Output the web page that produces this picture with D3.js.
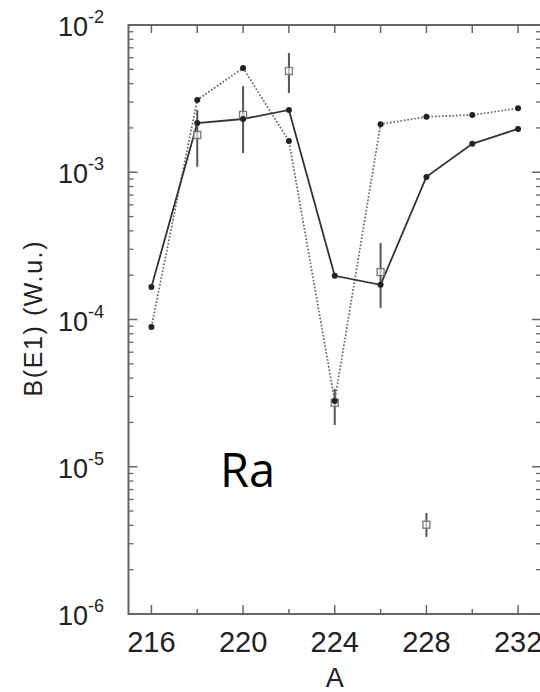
<!DOCTYPE html>
<html>
<head>
<meta charset="utf-8">
<script src="https://cdn.jsdelivr.net/npm/d3@7"></script>
<style>
  body { margin: 0; background: #fff; }
  text { font-family: "Liberation Sans", Arial, sans-serif; fill: #222; }
</style>
</head>
<body>
<script>
// mass numbers
var massA = [216, 218, 220, 222, 224, 226, 228, 230, 232];
// theory, solid line
var theorySolid = [1.66e-4, 2.16e-3, 2.30e-3, 2.65e-3, 1.98e-4, 1.72e-4, 9.3e-4, 1.56e-3, 1.97e-3];
// theory, dotted line
var theoryDotted = [8.9e-5, 3.1e-3, 5.1e-3, 1.63e-3, 2.8e-5, 2.12e-3, 2.38e-3, 2.45e-3, 2.72e-3];
// experiment (open squares with error bars)
var expA = [218, 220, 222, 224, 226, 228];
var expVal = [1.79e-3, 2.45e-3, 4.87e-3, 2.72e-5, 2.1e-4, 4.04e-6];
var expHi = [2.65e-3, 3.85e-3, 6.45e-3, 3.38e-5, 3.31e-4, 4.86e-6];
var expLo = [1.09e-3, 1.35e-3, 3.45e-3, 1.92e-5, 1.2e-4, 3.34e-6];
var xTicks = [216, 218, 220, 222, 224, 226, 228, 230, 232];
var xLabels = [216, 220, 224, 228, 232];
var yExps = [-2, -3, -4, -5, -6];

var width = 540, height = 692;
var plotLeft = 128.5, plotRight = 541, plotTop = 25, plotBottom = 614;

var svg = d3.select("body").append("svg")
    .attr("width", width)
    .attr("height", height);

var x = d3.scaleLinear().domain([215, 233]).range([plotLeft, plotRight]);
var y = d3.scaleLog().domain([1e-6, 1e-2]).range([plotBottom, plotTop]);

var axisColor = "#666";

// frame
svg.append("rect")
    .attr("x", plotLeft).attr("y", plotTop)
    .attr("width", plotRight - plotLeft).attr("height", plotBottom - plotTop)
    .attr("fill", "none")
    .attr("stroke", axisColor)
    .attr("stroke-width", 2);

// x ticks bottom + top
xTicks.forEach(function(t) {
  var major = xLabels.indexOf(t) >= 0;
  svg.append("line")
      .attr("x1", x(t)).attr("x2", x(t))
      .attr("y1", plotBottom).attr("y2", plotBottom - (major ? 9 : 5))
      .attr("stroke", axisColor).attr("stroke-width", 1.5);
  svg.append("line")
      .attr("x1", x(t)).attr("x2", x(t))
      .attr("y1", plotTop).attr("y2", plotTop + 8)
      .attr("stroke", axisColor).attr("stroke-width", 1.5);
});

svg.selectAll("text.xlab")
  .data(xLabels)
  .enter().append("text")
    .attr("class", "xlab")
    .attr("x", function(d) { return x(d); })
    .attr("y", plotBottom + 38)
    .attr("text-anchor", "middle")
    .style("font-size", "29px")
    .text(function(d) { return d; });

// y ticks (major + minor) on left and right
var yMinor = [];
for (var e = -6; e < -2; e++) {
  for (var m = 2; m <= 9; m++) yMinor.push(m * Math.pow(10, e));
}
yExps.forEach(function(e) {
  var v = Math.pow(10, e);
  svg.append("line")
      .attr("x1", plotLeft).attr("x2", plotLeft + 9)
      .attr("y1", y(v)).attr("y2", y(v))
      .attr("stroke", axisColor).attr("stroke-width", 1.5);
  svg.append("line")
      .attr("x1", plotRight).attr("x2", plotRight - 9)
      .attr("y1", y(v)).attr("y2", y(v))
      .attr("stroke", axisColor).attr("stroke-width", 1.5);
});
yMinor.forEach(function(v) {
  svg.append("line")
      .attr("x1", plotLeft).attr("x2", plotLeft + 5)
      .attr("y1", y(v)).attr("y2", y(v))
      .attr("stroke", axisColor).attr("stroke-width", 1.3);
  svg.append("line")
      .attr("x1", plotRight).attr("x2", plotRight - 5)
      .attr("y1", y(v)).attr("y2", y(v))
      .attr("stroke", axisColor).attr("stroke-width", 1.3);
});

var ylab = svg.selectAll("text.ylab")
  .data(yExps)
  .enter().append("text")
    .attr("class", "ylab")
    .attr("x", 58)
    .attr("y", function(d) { return y(Math.pow(10, d)) + 11; })
    .style("font-size", "27px");
ylab.append("tspan").text("10");
ylab.append("tspan")
    .attr("dy", -13)
    .style("font-size", "18px")
    .text(function(d) { return "-" + Math.abs(d); });

// axis titles
svg.append("text")
    .attr("transform", "translate(42," + 319 + ") rotate(-90)")
    .attr("text-anchor", "middle")
    .attr("textLength", 155)
    .attr("lengthAdjust", "spacing")
    .style("font-size", "25px")
    .text("B(E1) (W.u.)");

svg.append("text")
    .attr("x", x(224))
    .attr("y", 687)
    .attr("text-anchor", "middle")
    .style("font-size", "27px")
    .text("A");

svg.append("text")
    .attr("x", 220)
    .attr("y", 487)
    .style("font-family", "'Open Sans', sans-serif")
    .style("font-size", "47px")
    .style("fill", "#000")
    .text("Ra");

// lines
var line = d3.line()
    .x(function(d) { return x(d[0]); })
    .y(function(d) { return y(d[1]); });

var dottedData = d3.zip(massA, theoryDotted);
var solidData = d3.zip(massA, theorySolid);

svg.append("path")
    .attr("d", line(dottedData))
    .attr("fill", "none")
    .attr("stroke", "#666")
    .attr("stroke-width", 1.7)
    .attr("stroke-dasharray", "1.7,1.8");

svg.append("path")
    .attr("d", line(solidData))
    .attr("fill", "none")
    .attr("stroke", "#333")
    .attr("stroke-width", 1.8);

// experiment
var expData = expA.map(function(a, i) { return {a: a, v: expVal[i], hi: expHi[i], lo: expLo[i]}; });

svg.selectAll("line.err")
  .data(expData)
  .enter().append("line")
    .attr("class", "err")
    .attr("x1", function(d) { return x(d.a); })
    .attr("x2", function(d) { return x(d.a); })
    .attr("y1", function(d) { return y(d.hi); })
    .attr("y2", function(d) { return y(d.lo); })
    .attr("stroke", "#555")
    .attr("stroke-width", 2);

svg.selectAll("rect.exp")
  .data(expData)
  .enter().append("rect")
    .attr("class", "exp")
    .attr("x", function(d) { return x(d.a) - 3.5; })
    .attr("y", function(d) { return y(d.v) - 3.5; })
    .attr("width", 7).attr("height", 7)
    .attr("fill", "#fff")
    .attr("fill-opacity", 0.6)
    .attr("stroke", "#777")
    .attr("stroke-width", 1.3);

// theory markers
svg.selectAll("circle.dot")
  .data(dottedData)
  .enter().append("circle")
    .attr("class", "dot")
    .attr("cx", function(d) { return x(d[0]); })
    .attr("cy", function(d) { return y(d[1]); })
    .attr("r", 3)
    .attr("fill", "#222");

svg.selectAll("circle.sol")
  .data(solidData)
  .enter().append("circle")
    .attr("class", "sol")
    .attr("cx", function(d) { return x(d[0]); })
    .attr("cy", function(d) { return y(d[1]); })
    .attr("r", 3)
    .attr("fill", "#222");
</script>
</body>
</html>
